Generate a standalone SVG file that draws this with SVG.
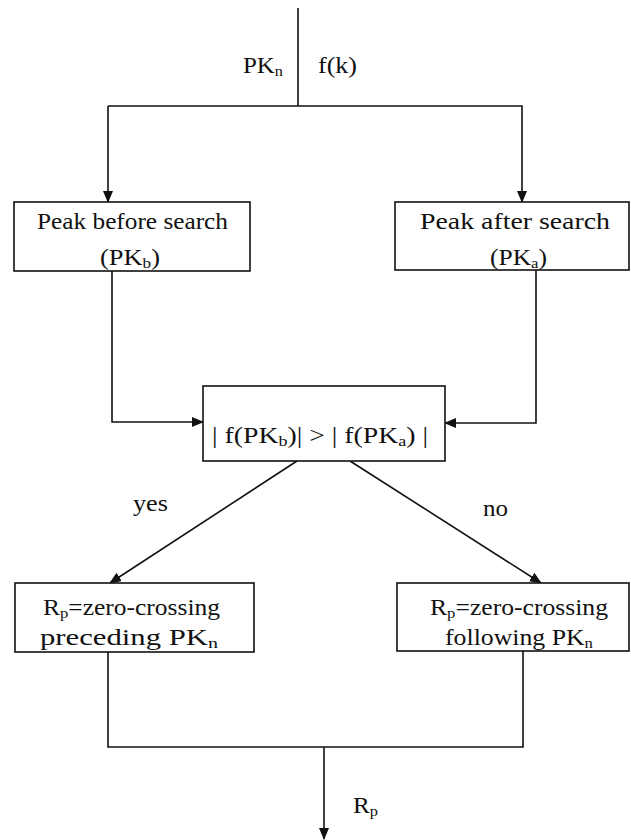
<svg xmlns="http://www.w3.org/2000/svg" width="631" height="840" viewBox="0 0 631 840">
<style>
  .box { fill: #fff; stroke: #111; stroke-width: 1.6; }
  .ln { fill: none; stroke: #111; stroke-width: 1.6; }
  text { font-family: "Liberation Serif", "Times New Roman", serif; font-size: 23px; fill: #111; }
  .sub { font-size: 15px; }
</style>
<defs>
  <marker id="arr" markerWidth="12" markerHeight="10" refX="11" refY="5" orient="auto" markerUnits="userSpaceOnUse">
    <path d="M0,0 L12,5 L0,10 Z" fill="#111"/>
  </marker>
</defs>
<g id="connectors">
  <line class="ln" x1="298" y1="8" x2="298" y2="106"/>
  <polyline class="ln" points="108,106 522,106 522,202" marker-end="url(#arr)"/>
  <line class="ln" x1="108" y1="106" x2="108" y2="202" marker-end="url(#arr)"/>
  <polyline class="ln" points="112,271 112,422 203,422" marker-end="url(#arr)"/>
  <polyline class="ln" points="536,270 536,423 445,423" marker-end="url(#arr)"/>
  <line class="ln" x1="297" y1="461" x2="110" y2="583" marker-end="url(#arr)"/>
  <line class="ln" x1="350" y1="461" x2="541" y2="583" marker-end="url(#arr)"/>
  <polyline class="ln" points="108,652 108,747 523,747 523,651"/>
  <line class="ln" x1="324" y1="747" x2="324" y2="839" marker-end="url(#arr)"/>
  <text x="243" y="73" textLength="40" lengthAdjust="spacingAndGlyphs">PK<tspan class="sub" dy="3">n</tspan></text>
  <text x="318" y="73" textLength="39" lengthAdjust="spacingAndGlyphs">f(k)</text>
  <text x="133" y="511" textLength="35" lengthAdjust="spacingAndGlyphs">yes</text>
  <text x="483" y="516" textLength="25" lengthAdjust="spacingAndGlyphs">no</text>
  <text x="353" y="813" textLength="25" lengthAdjust="spacingAndGlyphs">R<tspan class="sub" dy="3">p</tspan></text>
</g>
<g id="peak-before">
  <rect class="box" x="14" y="202" width="236" height="69"/>
  <text x="37" y="229" textLength="191" lengthAdjust="spacingAndGlyphs">Peak before search</text>
  <text x="100" y="265" textLength="60" lengthAdjust="spacingAndGlyphs">(PK<tspan class="sub" dy="3">b</tspan><tspan dy="-3">)</tspan></text>
</g>
<g id="peak-after">
  <rect class="box" x="395" y="202" width="234" height="68"/>
  <text x="420" y="229" textLength="190" lengthAdjust="spacingAndGlyphs">Peak after search</text>
  <text x="490" y="265" textLength="57" lengthAdjust="spacingAndGlyphs">(PK<tspan class="sub" dy="3">a</tspan><tspan dy="-3">)</tspan></text>
</g>
<g id="compare">
  <rect class="box" x="203" y="386" width="242" height="75"/>
  <text x="212" y="443" textLength="216" lengthAdjust="spacingAndGlyphs">| f(PK<tspan class="sub" dy="3">b</tspan><tspan dy="-3">)</tspan>| &gt; | f(PK<tspan class="sub" dy="3">a</tspan><tspan dy="-3">)</tspan> |</text>
</g>
<g id="preceding">
  <rect class="box" x="15" y="583" width="239" height="69"/>
  <text x="43" y="615" textLength="177" lengthAdjust="spacingAndGlyphs">R<tspan class="sub" dy="3">p</tspan><tspan dy="-3">=zero-crossing</tspan></text>
  <text x="40" y="645" textLength="178" lengthAdjust="spacingAndGlyphs">preceding PK<tspan class="sub" dy="3">n</tspan></text>
</g>
<g id="following">
  <rect class="box" x="397" y="583" width="232" height="68"/>
  <text x="430" y="615" textLength="178" lengthAdjust="spacingAndGlyphs">R<tspan class="sub" dy="3">p</tspan><tspan dy="-3">=zero-crossing</tspan></text>
  <text x="445" y="645" textLength="148" lengthAdjust="spacingAndGlyphs">following PK<tspan class="sub" dy="3">n</tspan></text>
</g>
</svg>
